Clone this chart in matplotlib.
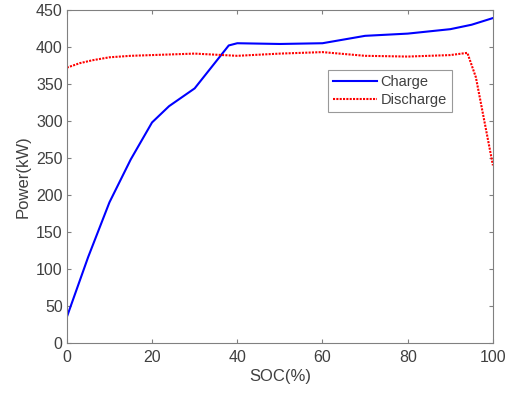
import matplotlib
matplotlib.use("Agg")
import matplotlib.pyplot as plt

plt.rcParams['font.family'] = ['Liberation Sans', 'DejaVu Sans']

# charge curve (SOC %, kW)
soc_charge = [0, 5, 10, 15, 20, 24, 30, 38, 40, 50, 60, 70, 80, 90, 95, 100]
p_charge = [35, 116, 190, 248, 298, 320, 344, 402, 405, 404, 405, 415, 418, 424, 430, 439]

# discharge curve
soc_dis = [0, 3, 6, 10, 15, 20, 30, 40, 50, 60, 70, 80, 90, 94, 96, 100]
p_dis = [372, 378, 382, 386, 388, 389, 391, 388, 391, 393, 388, 387, 389, 392, 359, 240]

fig = plt.figure(figsize=(5.14, 3.97), dpi=100)
ax = fig.add_axes([0.130, 0.136, 0.829, 0.839])

ax.plot(soc_charge, p_charge, color='#0000ff', lw=1.5, label='Charge')
ax.plot(soc_dis, p_dis, color='#ff0000', lw=1.5, ls=(0, (1, 0.6)), label='Discharge')

ax.set_xlim(0, 100)
ax.set_ylim(0, 450)
ax.set_xticks(range(0, 101, 20))
ax.set_yticks(range(0, 451, 50))
ax.set_xlabel('SOC(%)', fontsize=12, color='#404040', labelpad=3)
ax.set_ylabel('Power(kW)', fontsize=12, color='#404040', labelpad=4)

for s in ax.spines.values():
    s.set_color('#808080')
    s.set_linewidth(0.8)
ax.tick_params(direction='in', length=3, color='#808080', labelcolor='#404040',
               labelsize=11.5, top=True, right=True)
ax.tick_params(axis='x', pad=5)
ax.tick_params(axis='y', pad=3)

leg = ax.legend(loc='upper left', bbox_to_anchor=(0.613, 0.82), fontsize=10.5,
                frameon=True, fancybox=False, borderpad=0.35, handlelength=3.0,
                handletextpad=0.25, labelspacing=0.3, borderaxespad=0)
leg.get_frame().set_edgecolor('#808080')
leg.get_frame().set_linewidth(0.8)
for t in leg.get_texts():
    t.set_color('#404040')

fig.savefig('out.png', dpi=100)
